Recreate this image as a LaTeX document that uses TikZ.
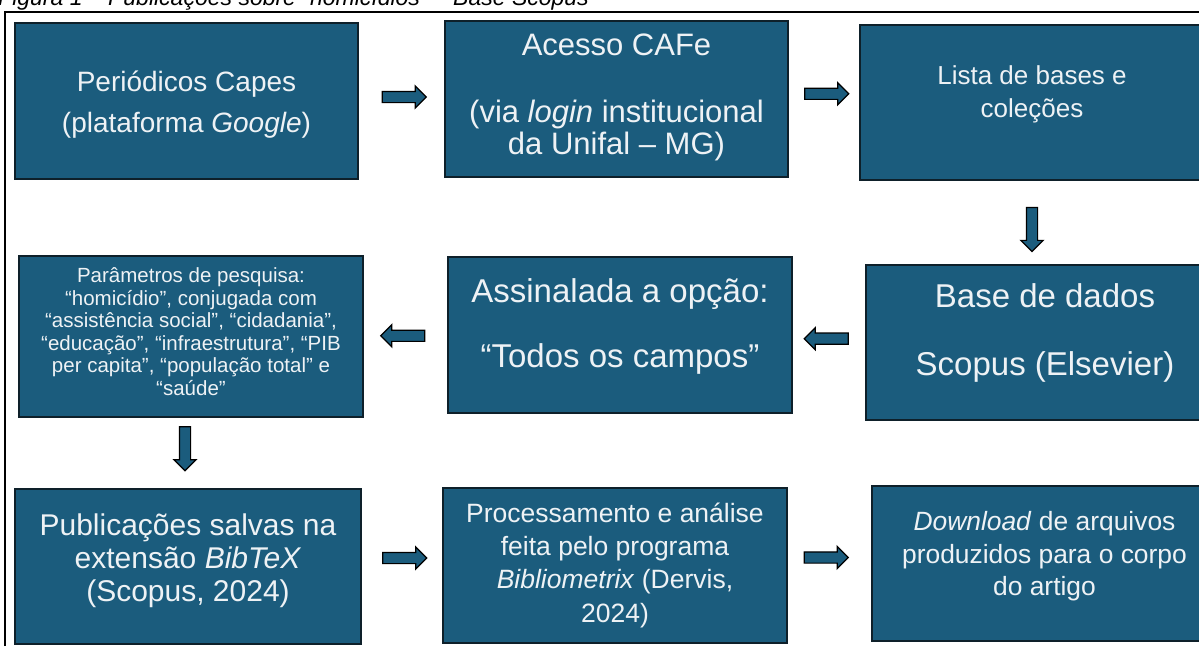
\documentclass[tikz,border=0pt]{standalone}
\usepackage{fontspec}
\setmainfont{Liberation Sans}
\usetikzlibrary{shapes.arrows}
\definecolor{boxblue}{RGB}{27,92,125}
\definecolor{boxline}{RGB}{14,32,42}
\definecolor{boxtext}{RGB}{238,242,245}
\newcommand{\lift}[2]{\raisebox{#1}[\height][\depth]{#2}}
\begin{document}
\begin{tikzpicture}[x=1pt,y=-1pt,
  box/.style={draw=boxline,line width=1.8pt,fill=boxblue,text=boxtext,inner sep=0pt},
  harrow/.style={single arrow,draw=black,line width=1.2pt,fill=boxblue,inner xsep=0pt,inner ysep=5pt,
    minimum height=44pt,single arrow head extend=5.5pt}]
\useasboundingbox (0,0) rectangle (1199,646);
% caption, cut off at the top
\node[anchor=base west,inner sep=0pt] (cap) at (-2,5)
  {\fontsize{23}{23}\selectfont\itshape Figura 1 – Publicações sobre “homicídios” – Base Scopus};
\draw[line width=1.2pt] (5,646) -- (5,12) -- (1199,12);
% first row
\node[box,minimum width=343pt,minimum height=156pt] (b1) at (186.5,101)
  {\fontsize{28}{41}\selectfont\lift{-3pt}{\begin{tabular}{@{}c@{}}Periódicos Capes\\(plataforma \textit{Google})\end{tabular}}};
\node[box,minimum width=343pt,minimum height=156pt] (b2) at (616.5,99)
  {\fontsize{31}{32}\selectfont\begin{tabular}{@{}c@{}}Acesso CAFe\\[35pt](via \textit{login} institucional\\da Unifal – MG)\end{tabular}};
\node[box,minimum width=344pt,minimum height=155pt] (b3) at (1032,102.5)
  {\fontsize{26}{33}\selectfont\lift{8pt}{\begin{tabular}{@{}c@{}}Lista de bases e\\coleções\end{tabular}}};
% second row
\node[box,minimum width=344pt,minimum height=161pt] (b4) at (191,336.5)
  {\fontsize{20.5}{22.5}\selectfont\lift{2pt}{\begin{tabular}{@{}c@{}}Parâmetros de pesquisa:\\“homicídio”, conjugada com\\“assistência social”, “cidadania”,\\“educação”, “infraestrutura”, “PIB\\per capita”, “população total” e\\“saúde”\end{tabular}}};
\node[box,minimum width=344pt,minimum height=156pt] (b5) at (620,335)
  {\fontsize{33}{65}\selectfont\lift{13.5pt}{\begin{tabular}{@{}c@{}}Assinalada a opção:\\“Todos os campos”\end{tabular}}};
\node[box,minimum width=358pt,minimum height=155pt] (b6) at (1045,342.5)
  {\fontsize{33}{68}\selectfont\lift{14.5pt}{\begin{tabular}{@{}c@{}}Base de dados\\Scopus (Elsevier)\end{tabular}}};
% third row
\node[box,minimum width=346pt,minimum height=155pt] (b7) at (188,566.5)
  {\fontsize{30}{33}\selectfont\lift{5pt}{\begin{tabular}{@{}c@{}}Publicações salvas na\\extensão \textit{BibTeX}\\(Scopus, 2024)\end{tabular}}};
\node[box,minimum width=344pt,minimum height=155pt] (b8) at (615,565.5)
  {\fontsize{26.5}{33.3}\selectfont\begin{tabular}{@{}c@{}}Processamento e análise\\feita pelo programa\\\textit{Bibliometrix} (Dervis,\\2024)\end{tabular}};
\node[box,minimum width=345pt,minimum height=155pt] (b9) at (1044.5,563.5)
  {\fontsize{26.4}{32.5}\selectfont\lift{7pt}{\begin{tabular}{@{}c@{}}\textit{Download} de arquivos\\produzidos para o corpo\\do artigo\end{tabular}}};
% arrows
\path (b1) -- node[harrow,yshift=3pt]{} (b2);
\path (b2) -- node[harrow,yshift=7pt]{} (b3);
\path (b3.south) -- node[harrow,rotate=-90,pos=0.55]{} (b3.south |- b6.north);
\path (b6) -- node[harrow,rotate=180]{} (b5);
\path (b5) -- node[harrow,rotate=180]{} (b4);
\path ([xshift=-6pt]b4.south) -- node[harrow,rotate=-90,pos=0.4]{} ([xshift=-6pt]b4.south |- b7.north);
\path (b7) -- node[harrow,yshift=8pt]{} (b8);
\path (b8) -- node[harrow,yshift=7pt,xshift=-6pt]{} (b9);
\end{tikzpicture}
\end{document}
